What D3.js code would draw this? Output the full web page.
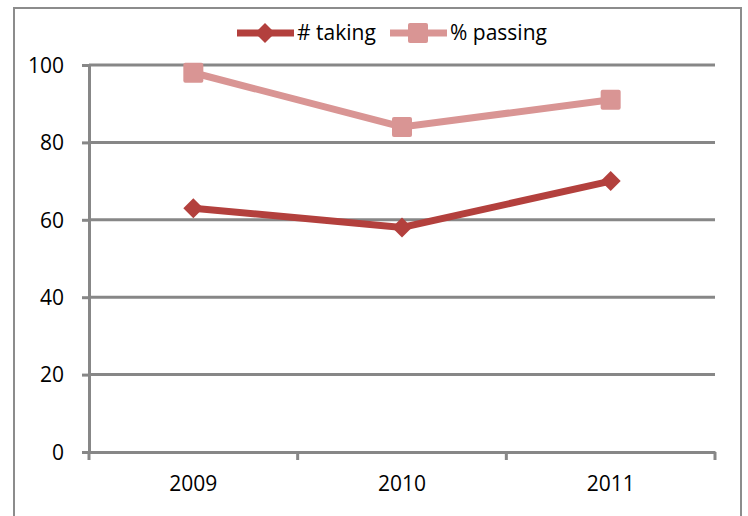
<!DOCTYPE html>
<html>
<head>
<meta charset="utf-8">
<script src="https://cdn.jsdelivr.net/npm/d3@7"></script>
<style>
  body { margin: 0; background: #fff; }
  text { font-family: "Liberation Sans Narrow", "Open Sans", sans-serif; fill: #000; }
</style>
</head>
<body>
<div id="chart"></div>
<script>
let years = ["2009", "2010", "2011"]
let taking = [63, 58, 70]
let passing = [98, 84, 91]
let yTicks = [0, 20, 40, 60, 80, 100]
let seriesNames = ["# taking", "% passing"]

let width = 748, height = 516
let margin = {top: 65, right: 33, bottom: 64, left: 89}

let w = width - margin.left - margin.right
let h = height - margin.top - margin.bottom

let svg = d3.select('#chart')
        .append('svg')
        .attr('width', width)
        .attr('height', height)

// outer chart border
svg.append('rect')
    .attr('x', 14).attr('y', 8)
    .attr('width', 727).attr('height', 520)
    .attr('fill', 'none')
    .attr('stroke', '#8c8c8c')
    .attr('stroke-width', 2)

let g = svg.append('g')
        .attr('transform', "translate(" + margin.left + "," + margin.top + ")")

let x = d3.scaleBand()
        .domain(years)
        .range([0, w])

let y = d3.scaleLinear()
        .domain([0, 100])
        .range([h, 0])

// gridlines
g.selectAll('.grid')
    .data(yTicks.filter(d => d > 0))
    .enter()
    .append('line')
    .attr('x1', 0).attr('x2', w)
    .attr('y1', d => y(d)).attr('y2', d => y(d))
    .attr('stroke', '#878787')
    .attr('stroke-width', 3)

// y axis
let yAxis = g.append('g')
    .call(d3.axisLeft(y).tickValues(yTicks).tickSize(7).tickPadding(18))
yAxis.select('.domain').attr('stroke', '#878787').attr('stroke-width', 3)
yAxis.selectAll('line').attr('stroke', '#878787').attr('stroke-width', 3)
yAxis.selectAll('text').style('font-size', '21px').attr('dy', '0.35em')

// x axis with boundary ticks
let xAxis = g.append('g')
    .attr('transform', "translate(0," + h + ")")
    .call(d3.axisBottom(x).tickSize(0).tickPadding(24))
xAxis.select('.domain').attr('stroke', '#878787').attr('stroke-width', 3)
xAxis.selectAll('text').style('font-size', '21px')

let bounds = years.map(d => x(d)).concat([w])
g.selectAll('.xtick')
    .data(bounds)
    .enter()
    .append('line')
    .attr('x1', d => d).attr('x2', d => d)
    .attr('y1', h).attr('y2', h + 8)
    .attr('stroke', '#878787')
    .attr('stroke-width', 3)

let cx = d => x(d) + x.bandwidth() / 2

let colors = ["#b3403d", "#d99594"]
let datasets = [taking, passing]

let line = d3.line()
    .x((d, i) => cx(years[i]))
    .y(d => y(d))

// passing drawn first, taking on top
for (let j = 1; j >= 0; j--) {
    g.append('path')
        .datum(datasets[j])
        .attr('fill', 'none')
        .attr('stroke', colors[j])
        .attr('stroke-width', 7)
        .attr('d', line)
}

let diamond = "M0,-10L10,0L0,10L-10,0Z"
function drawMarker(sel, j) {
    if (j == 0) {
        sel.append('path').attr('d', diamond).attr('fill', colors[0])
    } else {
        sel.append('rect')
            .attr('x', -10).attr('y', -10)
            .attr('width', 20).attr('height', 20)
            .attr('rx', 2)
            .attr('fill', colors[1])
    }
}

for (let j = 0; j < 2; j++) {
    datasets[j].forEach((v, i) => {
        let m = g.append('g').attr('transform', "translate(" + cx(years[i]) + "," + y(v) + ")")
        drawMarker(m, j)
    })
}

// legend
let legendX = [237, 390]
let legendY = 33
seriesNames.forEach((name, j) => {
    let lg = svg.append('g').attr('transform', "translate(" + legendX[j] + "," + legendY + ")")
    lg.append('line')
        .attr('x1', 0).attr('x2', 57)
        .attr('stroke', colors[j])
        .attr('stroke-width', 7)
    let m = lg.append('g').attr('transform', "translate(28,0)")
    drawMarker(m, j)
    lg.append('text')
        .attr('x', 60)
        .attr('dy', '0.35em')
        .style('font-size', '21px')
        .text(name)
})
</script>
</body>
</html>
